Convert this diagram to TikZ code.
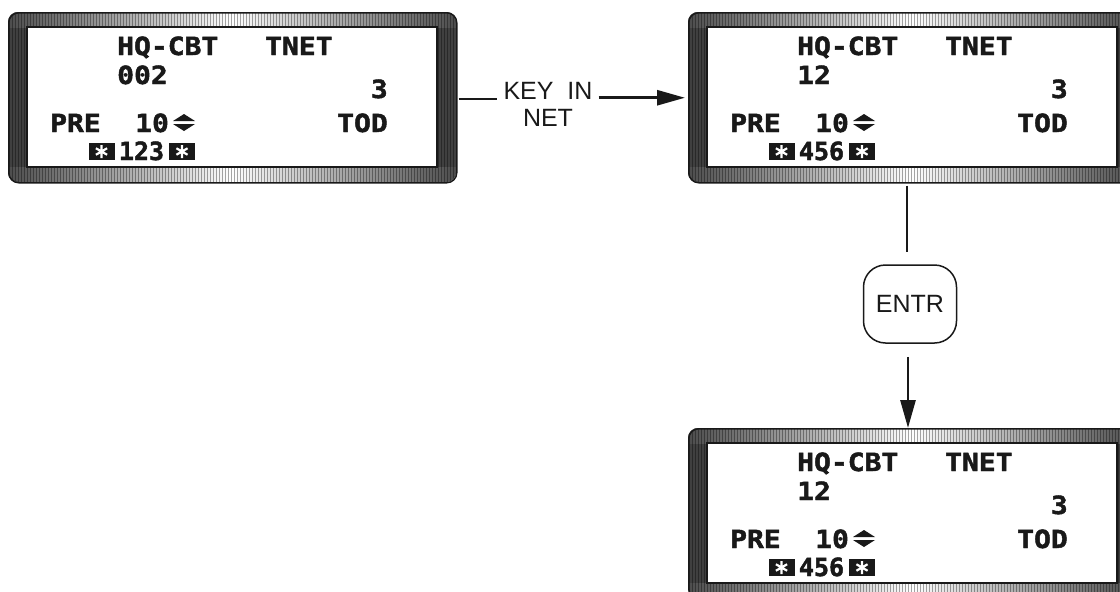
\documentclass[tikz,border=0pt]{standalone}
\usepackage{fontspec}
\setmainfont{Liberation Sans}
\newfontfamily\lcdfont{DejaVu Sans Mono}[FakeStretch=1.12, BoldFeatures={FakeBold=1.8}]
\usetikzlibrary{arrows.meta,calc}
\tikzset{
  lcdtext/.style={font=\lcdfont\bfseries\fontsize{25}{25}\selectfont, inner sep=0pt, text=black!90},
  codetext/.style={font=\lcdfont\bfseries\fontsize{25}{25}\selectfont\addfontfeatures{FakeStretch=1.0}, inner sep=0pt, text=black!90},
  lcdbox/.style={draw=black!90, line width=1.5pt, rounded corners=10pt, minimum width=448pt, minimum height=170pt, inner sep=0pt, anchor=north west},
  starbox/.style={fill=black!90, minimum width=26pt, minimum height=17pt, inner sep=0pt,
    path picture={\draw[white, line width=2.2pt]
      ($(path picture bounding box.center)+(0pt,6.5pt)$) -- ($(path picture bounding box.center)+(0pt,-6.5pt)$)
      ($(path picture bounding box.center)+(-5.6pt,-3.25pt)$) -- ($(path picture bounding box.center)+(5.6pt,3.25pt)$)
      ($(path picture bounding box.center)+(-5.6pt,3.25pt)$) -- ($(path picture bounding box.center)+(5.6pt,-3.25pt)$);}},
  lbl/.style={font=\fontsize{25}{27}\selectfont, align=center, inner ysep=0pt, inner xsep=6pt, text=black!90},
  keybox/.style={draw=black!90, line width=1.5pt, rounded corners=22pt, minimum width=93pt, minimum height=78pt, font=\fontsize{25}{27}\selectfont, text=black!90},
  thinline/.style={draw=black!90, line width=1.6pt},
  thickarrow/.style={draw=black!90, line width=2.8pt, -{Triangle[length=28pt,width=15pt]}},
}
\newcommand\lcdpanel[5]{%
\begin{scope}[shift={(#2,#3)}]
  \begin{scope}
    \clip[rounded corners=10pt] (8,12) rectangle (456,182);
    \fill[black!75] (8,12) rectangle (456,182);
    \shade[left color=black!70, right color=black!70, middle color=white] (8,12) rectangle (456,27);
    \shade[left color=black!70, right color=black!70, middle color=white] (8,167) rectangle (456,182);
    \foreach \i in {0,...,149} \draw[black, opacity=0.35, line width=1.1pt] (9.5+3*\i,12) -- (9.5+3*\i,182);
  \end{scope}
  \node[lcdbox] (#1) at (8,12) {};
  \fill[white] (27,27) rectangle (437,167);
  \draw[black!90, line width=2pt] (27,27) rectangle (437,167);
  \node[lcdtext, anchor=base west] (#1-hq) at (117,55) {HQ-CBT};
  \node[lcdtext, anchor=base west] (#1-tnet) at (265,55) {TNET};
  \node[lcdtext, anchor=base west] (#1-net) at (117,84) {#4};
  \node[lcdtext, anchor=base east] (#1-three) at (388,98) {3};
  \node[lcdtext, anchor=base west] (#1-pre) at (50,132) {PRE};
  \node[lcdtext, anchor=base west] (#1-ten) at (135,132) {10};
  \node[lcdtext, anchor=base east] (#1-tod) at (388,132) {TOD};
  \fill[black!90] (173,121) -- (184,114) -- (195,121) -- cycle;
  \fill[black!90] (173,124) -- (184,131) -- (195,124) -- cycle;
  \node[starbox] (#1-s1) at (101.5,151.5) {};
  \node[codetext, anchor=base] (#1-code) at (141.5,160) {#5};
  \node[starbox] (#1-s2) at (182,151.5) {};
\end{scope}}
\begin{document}
\begin{tikzpicture}[x=1pt, y=-1pt]
  \useasboundingbox (0,0) rectangle (1120,592);
  \clip (0,0) rectangle (1120,592);
  \lcdpanel{lcd1}{0}{0}{002}{123}
  \lcdpanel{lcd2}{680}{0}{12}{456}
  \lcdpanel{lcd3}{680}{416}{12}{456}
  \node[lbl] (keyin) at (548,104) {KEY\ \ IN\\NET};
  \node[keybox] (entr) at (910,304) {ENTR};
  \draw[thinline] ($(lcd1.east)+(1,1)$) -- ($(lcd1.east -| keyin.west)+(0,1)$);
  \draw[thickarrow] (lcd2.west -| keyin.east) -- ($(lcd2.west)+(-3,0)$);
  \draw[thinline] ($(lcd2.south -| entr.north)+(-3,2)$) -- ($(entr.north)+(-3,-12)$);
  \draw[thickarrow] ($(entr.south)+(-2,13)$) -- ($(lcd3.north -| entr.south)+(-2,0)$);
\end{tikzpicture}
\end{document}
